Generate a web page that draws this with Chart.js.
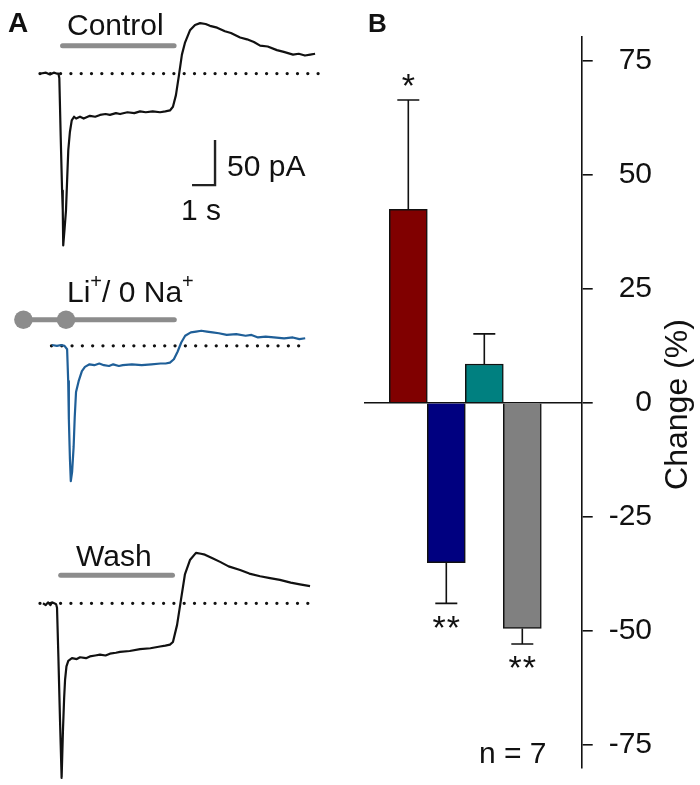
<!DOCTYPE html>
<html>
<head>
<meta charset="utf-8">
<script src="https://cdn.jsdelivr.net/npm/chart.js@4.4.1/dist/chart.umd.min.js"></script>
<style>
  body { margin: 0; background: #fff; }
  #fig { position: relative; width: 700px; height: 785px; overflow: hidden; font-family: 'Liberation Sans', Arial, sans-serif; color: #111; }
  #fig canvas { position: absolute; }
  .lbl { position: absolute; white-space: nowrap; line-height: 1; }
  .lbl sup { font-size: 20px; position: relative; top: -14px; vertical-align: baseline; line-height: 0; }
</style>
</head>
<body>
<div id="fig">
  <canvas id="trControl" width="340" height="260" style="left:0;top:0"></canvas>
  <canvas id="trLi" width="340" height="280" style="left:0;top:260px"></canvas>
  <canvas id="trWash" width="340" height="245" style="left:0;top:540px"></canvas>
  <canvas id="bars" width="360" height="785" style="left:340px;top:0"></canvas>
</div>
<script>
// ---- panel A: current traces (time in s, current in pA from baseline) ----
const controlT = [0.04,0.26,0.43,0.60,0.72,0.80,0.84,0.90,0.96,0.99,1.01,1.07,1.13,1.18,1.23,1.30,1.38,1.48,1.57,1.74,1.90,2.17,2.40,2.61,2.85,3.04,3.30,3.48,3.80,4.10,4.35,4.60,4.90,5.22,5.45,5.65,5.78,5.91,6.04,6.17,6.30,6.52,6.74,6.96,7.20,7.39,7.70,8.04,8.30,8.70,9.00,9.30,9.57,9.90,10.30,10.60,11.00,11.25,11.52,11.75,11.96];
const controlI = [0,1,-1,1,0,0,-5,-70,-130,-152,-191,-172,-152,-118,-85,-65,-52,-48,-50,-48,-50,-47,-48,-46,-45,-46,-44,-45,-43,-44,-42,-43,-42,-43,-42,-41,-37,-24,-2,21,34,48,54,56,55,53,51,47,45,40,38,35,31,30,26,24,21,22,20,21,22];

const liT = [0.22,0.45,0.65,0.80,0.92,0.97,1.00,1.05,1.09,1.15,1.22,1.27,1.33,1.45,1.60,1.74,1.95,2.17,2.40,2.61,2.85,3.04,3.30,3.48,3.90,4.35,4.80,5.22,5.45,5.65,5.83,6.00,6.17,6.35,6.61,6.85,7.09,7.35,7.61,7.90,8.26,8.70,9.13,9.40,9.70,10.05,10.43,10.90,11.30,11.60,11.87];
const liI = [1,0,1,0,-4,-42,-87,-135,-161,-150,-120,-85,-55,-42,-30,-25,-22,-23,-21,-23,-24,-22,-24,-23,-22,-23,-22,-21,-21,-20,-16,-7,4,12,16,17,18,17,16,15,13,14,12,13,10,11,10,9,10,8,9];

const washT = [0.13,0.25,0.35,0.45,0.52,0.62,0.70,0.74,0.80,0.87,0.94,1.00,1.05,1.09,1.15,1.23,1.39,1.60,1.74,2.00,2.17,2.40,2.61,2.85,3.04,3.30,3.48,3.90,4.35,4.80,5.22,5.45,5.65,5.78,5.96,6.13,6.30,6.52,6.78,7.00,7.17,7.50,7.83,8.20,8.70,9.10,9.57,10.00,10.43,10.90,11.30,11.74];
const washI = [0,-2,1,-2,1,0,-1,-5,-60,-130,-194,-140,-105,-85,-70,-64,-61,-62,-60,-61,-59,-58,-57,-58,-56,-55,-54,-53,-51,-50,-48,-47,-46,-43,-24,4,32,48,56,55,54,50,46,41,37,33,30,28,26,23,21,19];

// dotted zero-current lines and solution application bars (time spans)
const controlBase = [0.0, 12.1];
const liBase = [0.2, 11.85];
const washBase = [0.0, 11.7];
const controlApp = [0.98, 5.83];
const liApp = [-1.09, 5.85];
const washApp = [0.90, 5.76];
const appLevel = 31;
const liMarks = [-1.09, 0.87];

// scale bar: 1 s, 50 pA
const scaleBarT = [6.61, 7.61, 7.61];
const scaleBarI = [-124, -124, -74];

// ---- panel B: % change ----
const barGroups = ['Group 1', 'Group 2', 'Group 3', 'Group 4'];
const barX = [1, 2, 3, 4];
const barValues = [42.4, -35.1, 8.5, -49.5];
const barErrors = [24.0, 8.9, 6.6, 3.4];
const barMarks = ['*', '**', '', '**'];
const barColors = ['#800000', '#000080', '#008080', '#808080'];
const yTicks = [75, 50, 25, 0, -25, -50, -75];

Chart.defaults.font.family = "'Liberation Sans', Arial, sans-serif";
Chart.defaults.color = '#111';

const pts = (xs, ys) => xs.map((x, i) => ({ x: x, y: ys[i] }));

function traceSet(xs, ys, color) {
  return { data: pts(xs, ys), showLine: true, borderColor: color, borderWidth: 2.2,
    pointRadius: 0, tension: 0, borderJoinStyle: 'round', clip: false };
}
function dottedSet(span) {
  return { data: pts(span, [0, 0]), showLine: true, borderColor: '#111', borderWidth: 3.3,
    borderDash: [0, 10.3], borderCapStyle: 'round', pointRadius: 0, clip: false };
}
function appSet(span) {
  return { data: pts(span, [appLevel, appLevel]), showLine: true, borderColor: '#8c8c8c',
    borderWidth: 5, borderCapStyle: 'round', pointRadius: 0, clip: false };
}

// all three traces share the same time / current scaling (23 px per s, 0.9 px per pA)
function traceChart(id, yMin, yMax, sets) {
  return new Chart(document.getElementById(id), {
    type: 'scatter',
    data: { datasets: sets },
    options: {
      responsive: false,
      animation: false,
      events: [],
      layout: { padding: 0 },
      plugins: { legend: { display: false }, tooltip: { enabled: false } },
      scales: {
        x: { type: 'linear', display: false, min: -1.739, max: 13.043 },
        y: { type: 'linear', display: false, min: yMin, max: yMax }
      }
    }
  });
}

traceChart('trControl', -207.2, 81.7, [
  traceSet(controlT, controlI, '#111'),
  { data: pts(scaleBarT, scaleBarI), showLine: true, borderColor: '#222', borderWidth: 2.4,
    pointRadius: 0, tension: 0, borderJoinStyle: 'miter', clip: false },
  appSet(controlApp),
  dottedSet(controlBase)
]);

traceChart('trLi', -220, 91.1, [
  traceSet(liT, liI, '#1f5f98'),
  { data: pts(liMarks, [appLevel, appLevel]), showLine: false, pointRadius: 9.3,
    pointBackgroundColor: '#8c8c8c', pointBorderWidth: 0, clip: false },
  appSet(liApp),
  dottedSet(liBase)
]);

traceChart('trWash', -201.9, 70.3, [
  traceSet(washT, washI, '#111'),
  appSet(washApp),
  dottedSet(washBase)
]);

// error bars + significance stars
const errorBars = {
  id: 'errorBars',
  afterDatasetsDraw(chart) {
    const ctx = chart.ctx;
    const y = chart.scales.y;
    const meta = chart.getDatasetMeta(0);
    ctx.save();
    ctx.strokeStyle = '#111';
    ctx.fillStyle = '#111';
    ctx.lineWidth = 1.6;
    ctx.font = "34px 'Liberation Sans', Arial, sans-serif";
    ctx.textAlign = 'center';
    ctx.letterSpacing = '1px';
    meta.data.forEach((bar, i) => {
      const v = barValues[i];
      const dir = v >= 0 ? 1 : -1;
      const y0 = y.getPixelForValue(v);
      const y1 = y.getPixelForValue(v + dir * barErrors[i]);
      ctx.beginPath();
      ctx.moveTo(bar.x, y0);
      ctx.lineTo(bar.x, y1);
      ctx.moveTo(bar.x - 11, y1);
      ctx.lineTo(bar.x + 11, y1);
      ctx.stroke();
      if (barMarks[i]) {
        ctx.fillText(barMarks[i], bar.x + 0.5, dir > 0 ? y1 - 3 : y1 + 35.5);
      }
    });
    ctx.restore();
  }
};

// y title reads bottom-to-top even though the axis sits on the right
const yTitle = {
  id: 'yTitle',
  afterDraw(chart) {
    const ctx = chart.ctx;
    const a = chart.chartArea;
    ctx.save();
    ctx.translate(347, (a.top + a.bottom) / 2 + 2);
    ctx.rotate(-Math.PI / 2);
    ctx.font = "32px 'Liberation Sans', Arial, sans-serif";
    ctx.fillStyle = '#111';
    ctx.textAlign = 'center';
    ctx.textBaseline = 'alphabetic';
    ctx.fillText('Change (%)', 0, 0);
    ctx.restore();
  }
};

new Chart(document.getElementById('bars'), {
  type: 'bar',
  data: {
    labels: barGroups,
    datasets: [{
      data: pts(barX, barValues),
      backgroundColor: barColors,
      borderColor: '#111',
      borderWidth: 1.5,
      barPercentage: 1,
      categoryPercentage: 1
    }]
  },
  options: {
    responsive: false,
    animation: false,
    events: [],
    // right padding leaves room for the rotated title drawn by the plugin
    layout: { padding: { left: 24, top: 37, bottom: 17, right: 48 } },
    plugins: { legend: { display: false }, tooltip: { enabled: false } },
    scales: {
      x: {
        type: 'linear', display: false, offset: false, min: -0.166, max: 5.563,
        afterBuildTicks: s => { s.ticks = barX.map(v => ({ value: v })); }
      },
      y: {
        type: 'linear', position: 'right', min: -80.1, max: 80.2, z: 1,
        afterBuildTicks: s => { s.ticks = yTicks.map(v => ({ value: v })); },
        afterFit: s => { s.width = 70.3; s.paddingTop = 0; s.paddingBottom = 0; },
        grid: {
          color: c => (c.tick && c.tick.value === 0 ? '#111' : 'rgba(0,0,0,0)'),
          tickColor: '#111',
          tickLength: 11,
          lineWidth: 1.6
        },
        border: { display: true, color: '#111', width: 1.6 },
        ticks: { font: { size: 30 }, color: '#111', padding: 14, crossAlign: 'far' }
      }
    }
  },
  plugins: [errorBars, yTitle]
});

// static text (panel letters, condition names, scale bar units)
const textItems = [
  ['A', 8, 33, 28, 700],
  ['B', 368, 32, 26, 700],
  ['Control', 67, 35, 30, 400],
  ['50 pA', 227, 176.5, 30, 400],
  ['1 s', 181, 220, 30, 400],
  ['Li<sup>+</sup>/ 0 Na<sup>+</sup>', 67, 302.5, 30, 400],
  ['Wash', 76, 566.5, 30, 400],
  ['n = 7', 479, 763, 30, 400]
];
const fig = document.getElementById('fig');
textItems.forEach(([html, left, baseline, size, weight]) => {
  const d = document.createElement('div');
  d.className = 'lbl';
  d.innerHTML = html;
  d.style.left = left + 'px';
  d.style.top = (baseline - 0.8465 * size) + 'px';
  d.style.fontSize = size + 'px';
  d.style.fontWeight = weight;
  fig.appendChild(d);
});
</script>
</body>
</html>
